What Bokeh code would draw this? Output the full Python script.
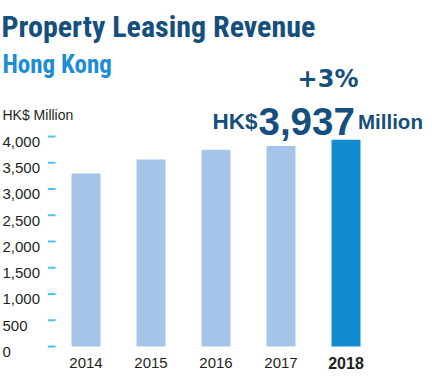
from bokeh.plotting import figure
from bokeh.models import Range1d, Label, ColumnDataSource
from bokeh.core.properties import value
from bokeh.embed import file_html
from bokeh.resources import INLINE

# ---- data ----
years = ["2014", "2015", "2016", "2017", "2018"]
revenue = [3296, 3561, 3746, 3820, 3937]
highlight = [False, False, False, False, True]
tick_values = [0, 500, 1000, 1500, 2000, 2500, 3000, 3500, 4000]
tick_labels = ["0", "500", "1,000", "1,500", "2,000", "2,500", "3,000", "3,500", "4,000"]
title_text = "Property Leasing Revenue"
subtitle_text = "Hong Kong"
unit_text = "HK$ Million"
change_text = "+3%"
total_prefix = "HK$"
total_value = "3,937"
total_suffix = "Million"

# ---- layout ----
W, H = 424, 372
STEP = 65.0          # px between bar centres
X0 = 85.5            # px of first bar centre
PX_PER_UNIT = 0.0525
ZERO_PX = 346.0      # px from top of the value 0

x_start = -X0 / STEP
x_end = (W - X0) / STEP
y_start = -(H - ZERO_PX) / PX_PER_UNIT
y_end = ZERO_PX / PX_PER_UNIT

def px2x(px):
    return (px - X0) / STEP

p = figure(width=W, height=H, x_range=Range1d(x_start, x_end), y_range=Range1d(y_start, y_end),
           x_axis_type=None, y_axis_type=None, toolbar_location=None, output_backend="svg",
           min_border=0, outline_line_color=None, background_fill_color="white",
           border_fill_color="white")

LIGHT = "#a4c5e9"
DARK = "#138bd1"
NAVY = "#154f7d"
TEXT = "#231f20"
COND = "Roboto Condensed, Liberation Sans Narrow, DejaVu Sans Condensed, Roboto"

xs = list(range(len(years)))
colors = [DARK if h else LIGHT for h in highlight]
src = ColumnDataSource(dict(x=xs, top=revenue, color=colors, year=years))
p.vbar(x="x", top="top", bottom=0, width=29 / STEP, fill_color="color", line_color=None, source=src)

# tick dashes
p.segment(x0=[px2x(47.3)] * len(tick_values), x1=[px2x(55)] * len(tick_values),
          y0=tick_values, y1=tick_values, line_color="#4cc2ee", line_width=2)

# tick labels (left aligned)
p.text(x=[px2x(2)] * len(tick_values), y=tick_values, text=tick_labels,
       text_font=value("Liberation Sans"), text_font_size="15px", text_color=TEXT,
       text_align="left", text_baseline="alphabetic", y_offset=5.3)

# x labels
normal_idx = [i for i, h in enumerate(highlight) if not h]
bold_idx = [i for i, h in enumerate(highlight) if h]
p.text(x=[xs[i] for i in normal_idx], y=[0] * len(normal_idx), text=[years[i] for i in normal_idx],
       text_font=value("Liberation Sans"), text_font_size="15px", text_color=TEXT,
       text_align="center", text_baseline="alphabetic", y_offset=16.5)
p.text(x=[xs[i] for i in bold_idx], y=[0] * len(bold_idx), text=[years[i] for i in bold_idx],
       text_font=value("Liberation Sans"), text_font_size="16px", text_font_style="bold",
       text_color=TEXT, text_align="center", text_baseline="alphabetic", y_offset=16.5)

def lab(text, x, y_top, font, size, color, bold=True, align="left"):
    p.add_layout(Label(x=x, y=H - y_top, x_units="screen", y_units="screen", text=text,
                       text_font=font, text_font_size=size, text_color=color,
                       text_font_style="bold" if bold else "normal",
                       text_align=align, text_baseline="alphabetic"))

lab(title_text, 1, 25.7, COND, "30px", NAVY)
lab(subtitle_text, 2, 64, COND, "25px", "#1a8dd6")
lab(unit_text, 2, 114, "Liberation Sans", "14px", TEXT, bold=False)
lab(change_text, 327.5, 78.3, "DejaVu Sans", "24px", NAVY, align="center")
lab(total_prefix, 212, 121.3, "Liberation Sans", "22.5px", NAVY)
lab(total_value, 258, 121.3, "Liberation Sans", "38.5px", NAVY)
lab(total_suffix, 357.5, 121.3, "Liberation Sans", "20.5px", NAVY)

open("out.html", "w").write(file_html(p, INLINE))
